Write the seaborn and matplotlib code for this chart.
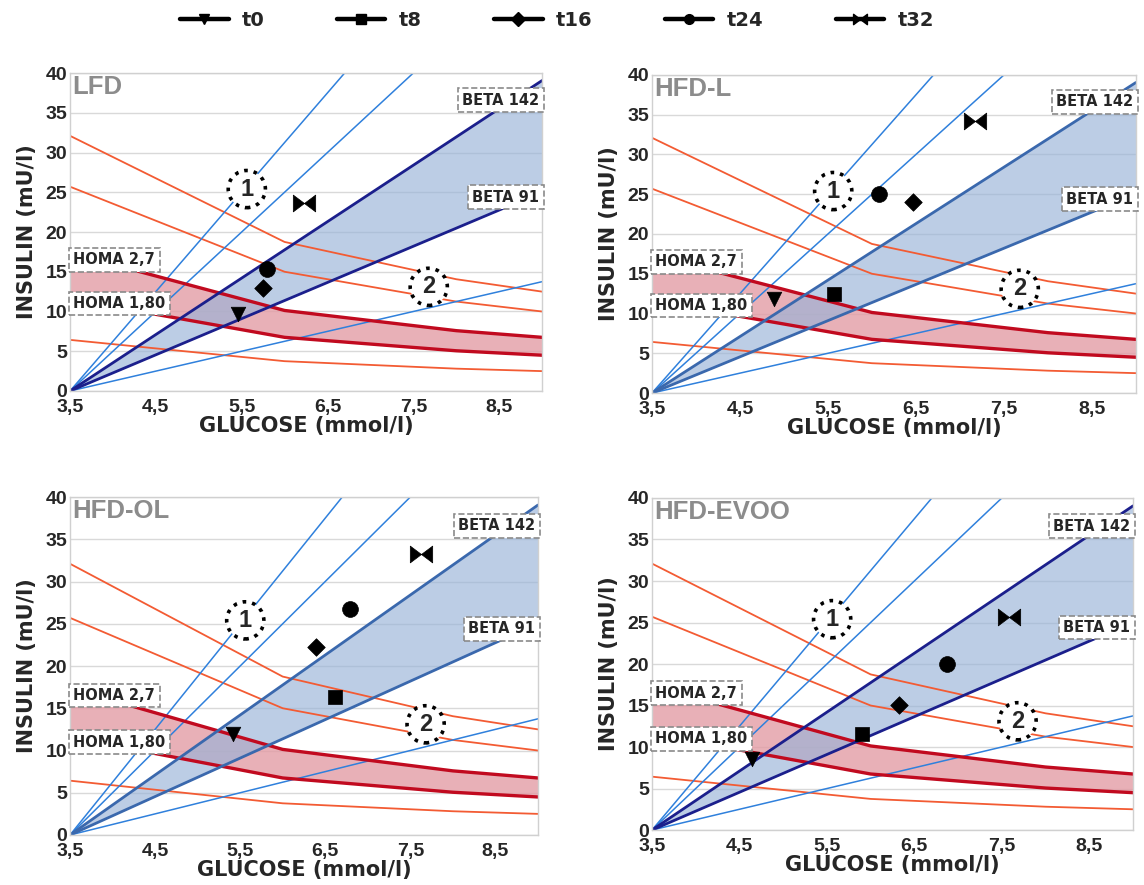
import numpy as np
import pandas as pd
import matplotlib
matplotlib.use("Agg")
import matplotlib.pyplot as plt
from matplotlib.lines import Line2D
from matplotlib.path import Path
import seaborn as sns

# reference curves
GLUCOSE_KNOTS = [3.5, 6.0, 8.0, 9.0]
HOMA_1 = [6.43, 3.75, 2.81, 2.50]
HOMA_4 = [25.7, 15.0, 11.25, 10.0]
HOMA_5 = [32.1, 18.75, 14.06, 12.5]
HOMA_1_80 = [11.57, 6.75, 5.06, 4.50]
HOMA_2_7 = [17.36, 10.13, 7.59, 6.75]

BETA_50 = ([3.5, 9.0], [0, 13.75])
BETA_91 = ([3.5, 9.0], [0, 25.03])
BETA_142 = ([3.5, 9.0], [0, 39.05])
BETA_200 = ([3.5, 7.5], [0, 40.0])
BETA_250 = ([3.5, 6.7], [0, 40.0])

TIMES = ["t0", "t8", "t16", "t24", "t32"]
PANELS = ["LFD", "HFD-L", "HFD-OL", "HFD-EVOO"]

LFD_GLU = [5.46, np.nan, 5.75, 5.80, 6.23]
LFD_INS = [9.7, np.nan, 12.9, 15.3, 23.7]
HFDL_GLU = [4.89, 5.57, 6.47, 6.08, 7.17]
HFDL_INS = [11.8, 12.5, 24.0, 25.0, 34.2]
HFDOL_GLU = [5.42, 6.62, 6.39, 6.79, 7.63]
HFDOL_INS = [12.0, 16.3, 22.2, 26.7, 33.3]
EVOO_GLU = [4.64, 5.90, 6.33, 6.87, 7.58]
EVOO_INS = [8.5, 11.6, 15.1, 20.0, 25.7]

XTICKS = [3.5, 4.5, 5.5, 6.5, 7.5, 8.5]
XTICKLABELS = ["3,5", "4,5", "5,5", "6,5", "7,5", "8,5"]
YTICKS = [0, 5, 10, 15, 20, 25, 30, 35, 40]

bowtie = Path([(-1, -0.75), (0, 0), (-1, 0.75), (-1, -0.75),
               (1, -0.75), (0, 0), (1, 0.75), (1, -0.75)],
              [Path.MOVETO, Path.LINETO, Path.LINETO, Path.CLOSEPOLY,
               Path.MOVETO, Path.LINETO, Path.LINETO, Path.CLOSEPOLY])
MARKERS = {"t0": "v", "t8": "s", "t16": "D", "t24": "o", "t32": bowtie}
SIZES = {"t0": 110, "t8": 95, "t16": 80, "t24": 130, "t32": 260}

sns.set_theme(style="white")
plt.rcParams["font.family"] = ["Liberation Sans", "DejaVu Sans"]
plt.rcParams["font.weight"] = "bold"

THIN_BLUE = "#2f80dc"
THIN_RED = "#f35b33"
DARK_RED = "#c10a1f"
WIDE = ["DejaVu Sans"]


def draw_panel(ax, name, glu, ins, beta_color):
    ax.set_xlim(3.5, 9.0)
    ax.set_ylim(0, 40)

    ax.fill_between(GLUCOSE_KNOTS, HOMA_1_80, HOMA_2_7, color="#e39ca5",
                    alpha=0.8, lw=0, zorder=1)
    ax.fill_between(BETA_91[0], BETA_91[1], BETA_142[1], color="#98b3d8",
                    alpha=0.65, lw=0, zorder=1.5)

    for ys in (HOMA_1, HOMA_4, HOMA_5):
        sns.lineplot(x=GLUCOSE_KNOTS, y=ys, color=THIN_RED, lw=1.3, ax=ax, zorder=2)
    for ys in (HOMA_1_80, HOMA_2_7):
        sns.lineplot(x=GLUCOSE_KNOTS, y=ys, color=DARK_RED, lw=2.4, ax=ax, zorder=2.5)
    for xs, ys in (BETA_50, BETA_200, BETA_250):
        sns.lineplot(x=xs, y=ys, color=THIN_BLUE, lw=1.1, ax=ax, zorder=2)
    for xs, ys in (BETA_91, BETA_142):
        sns.lineplot(x=xs, y=ys, color=beta_color, lw=2.0, ax=ax, zorder=2.5)

    df = pd.DataFrame({"glucose": glu, "insulin": ins, "time": TIMES}).dropna()
    for t, sub in df.groupby("time"):
        sns.scatterplot(data=sub, x="glucose", y="insulin", marker=MARKERS[t],
                        s=SIZES[t], color="black", edgecolor="black",
                        linewidth=0.5, legend=False, ax=ax, zorder=6)

    box = dict(boxstyle="square,pad=0.3", fc="white", ec="#8a8a8a", ls="--", lw=1.2)
    lab = dict(fontsize=10.5, fontweight="bold", family=WIDE, bbox=box, zorder=7,
               va="center")
    ax.text(8.97, 36.6, "BETA 142", ha="right", **lab)
    ax.text(8.97, 24.4, "BETA 91", ha="right", **lab)
    ax.text(3.54, 16.5, "HOMA 2,7", ha="left", **lab)
    ax.text(3.54, 11.0, "HOMA 1,80", ha="left", **lab)

    circ = dict(boxstyle="circle,pad=0.3", fc="white", ec="black", ls=":", lw=2.6)
    ax.text(5.56, 25.4, "1", ha="center", va="center", fontsize=17,
            fontweight="bold", bbox=circ, zorder=7)
    ax.text(7.68, 13.1, "2", ha="center", va="center", fontsize=17,
            fontweight="bold", bbox=circ, zorder=7)

    ax.text(0.004, 0.995, name, transform=ax.transAxes, ha="left", va="top",
            fontsize=18.5, fontweight="bold", color="#8c8c8c", zorder=8)

    ax.set_xticks(XTICKS)
    ax.set_xticklabels(XTICKLABELS)
    ax.set_yticks(YTICKS)
    ax.tick_params(labelsize=14, length=0)
    ax.tick_params(axis="x", pad=6)
    ax.tick_params(axis="y", pad=2)
    for t in ax.get_xticklabels() + ax.get_yticklabels():
        t.set_fontweight("bold")
    ax.yaxis.grid(True, color="#d9d9d9", lw=1)
    ax.xaxis.grid(False)
    ax.set_axisbelow(True)
    for sp in ax.spines.values():
        sp.set_color("#d0d0d0")
        sp.set_linewidth(1)
    ax.set_xlabel("GLUCOSE (mmol/l)", fontsize=15, fontweight="bold",
                  family=WIDE, labelpad=0)
    ax.set_ylabel("INSULIN (mU/l)", fontsize=15, fontweight="bold",
                  family=WIDE, labelpad=6)


fig = plt.figure(figsize=(11.44, 8.85), dpi=100)
axes = [
    fig.add_axes([0.0612, 0.5582, 0.4126, 0.3593]),
    fig.add_axes([0.5699, 0.5559, 0.4230, 0.3594]),
    fig.add_axes([0.0612, 0.0565, 0.4090, 0.3819]),
    fig.add_axes([0.5699, 0.0621, 0.4205, 0.3752]),
]
data = [(LFD_GLU, LFD_INS, "#1b1f8c"), (HFDL_GLU, HFDL_INS, "#3a68ad"),
        (HFDOL_GLU, HFDOL_INS, "#3a68ad"), (EVOO_GLU, EVOO_INS, "#1b1f8c")]
for ax, name, (g, i, c) in zip(axes, PANELS, data):
    draw_panel(ax, name, g, i, c)

handles = [Line2D([], [], color="black", lw=3.2, marker=MARKERS[t],
                  markersize=10 if t == "t32" else 7) for t in TIMES]
fig.legend(handles, TIMES, loc="center", bbox_to_anchor=(0.487, 0.977),
           ncol=5, frameon=False, handlelength=2.5, handletextpad=0.7,
           columnspacing=3.7, prop={"weight": "bold", "size": 14, "family": WIDE})

fig.savefig("out.png", dpi=100, facecolor="white")
